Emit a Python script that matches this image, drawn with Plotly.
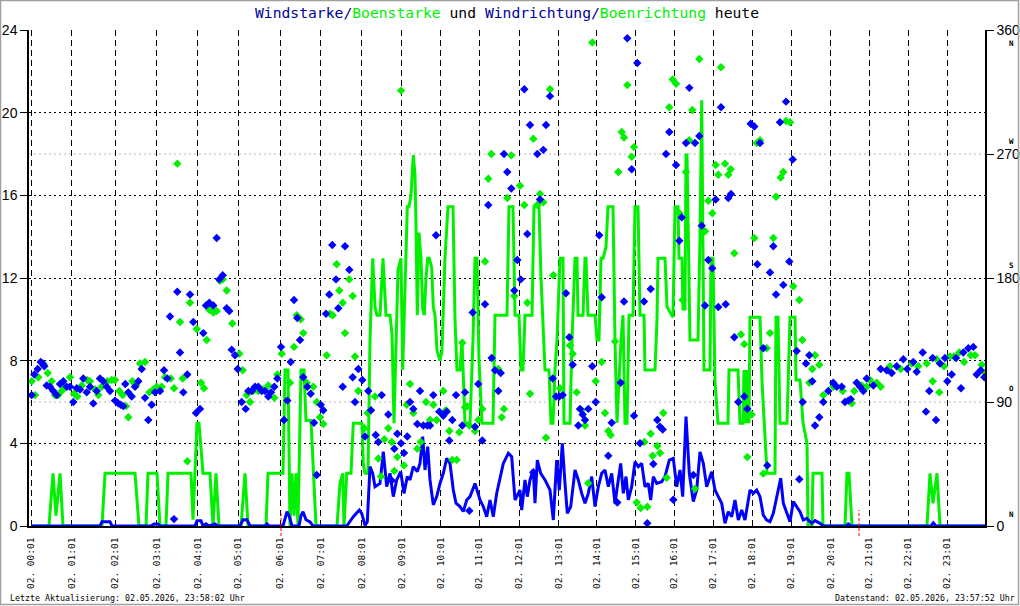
import plotly.graph_objects as go

# ---------------- data ----------------
# x = sample position along the day (chart sample index), hourly ticks below
hour_pos = [0, 40.7, 84, 125.7, 166.7, 207.3, 249, 289.7, 330.7, 370.7, 409.7, 448.3,
            488.3, 527.7, 565.7, 604.7, 643.3, 682.3, 721.3, 760, 799.7, 838.3, 877.3, 916.3]
hour_labels = ["02. %02d:01" % h for h in range(24)]

speed_left_ticks = [0, 4, 8, 12, 16, 20, 24]
dir_right_ticks = [0, 90, 180, 270, 360]

# Windstarke (blue line): (sample, value)
wind_speed = [
    (0,0),(69,0),(71,0.2),(79,0.2),(81,0),(120,0),(123,0.1),(127,0.1),(129,0),(164,0),(166,0.25),
    (170,0.25),(172,0),(175,0.1),(178,0),(184,0.1),(187,0),(209,0),(212,0.3),(216,0.3),(219,0),
    (234,0),(236,0.1),(238,0),(252,0),(254,0.4),(256,0.69),(258,0.5),(261,0),(268,0),(270,0.5),
    (272,0.69),(275,0.3),(279,0.2),(282,0),
    (315.7,0),(322.3,0.45),(328.3,0.77),(330.7,0.61),(334,0.03),(336.3,0.2),(339,2.87),(341.7,2.55),
    (344,1.9),(349,2.06),(352.3,3.6),(355.7,1.9),(359,2.55),(362.3,1.42),(365.7,2.23),(369.7,2.63),
    (373,1.58),(376.3,2.39),(379,2.23),(382.3,2.87),(386.3,2.63),(389,3.03),(391.7,4.32),(394,2.71),
    (396.7,3.84),(399,2.23),(402.3,1.02),(405.7,1.42),(409,2.06),(412.3,2.55),(415.7,3.27),(419,3.03),
    (422.3,1.74),(425,1.1),(429,0.94),(432.3,0.7),(435.7,1.26),(439,1.42),(444,2.06),(449,1.26),
    (452.3,0.94),(455.7,0.45),(459,1.26),(462.3,0.45),(465.7,1.58),(469,2.23),(472.3,3.03),(477.3,3.52),
    (480.7,3.35),(484,1.26),(489,1.74),(490.7,0.77),(494,2.23),(496.3,1.42),(499,2.23),(502.3,2.71),
    (504,1.1),(506.3,3.19),(509.7,2.55),(514,2.23),(519,1.74),(522.3,0.29),(525.7,3.19),(528.3,1.74),
    (531.3,4.0),(534,2.06),(536.3,0.61),(539.7,0.94),(544,2.71),(547.3,2.23),(550.7,1.58),(554,1.1),
    (557.3,1.58),(560.7,2.39),(564,0.94),(567.3,1.9),(570.7,2.55),(574,2.71),(577.3,1.9),(580.7,2.55),
    (584,1.1),(587.3,2.23),(589.7,3.03),(592.3,1.58),(595,2.39),(597.3,1.26),(600.7,1.9),(604,3.11),
    (607.3,2.87),(610.7,3.03),(614,1.9),(617.3,2.06),(619.7,1.26),(622.3,2.39),(625.7,2.06),(630.7,2.14),
    (634,2.39),(638.3,3.19),
    (642.3,3.27),(645.7,1.9),(649,2.71),(651.7,1.42),(655,5.29),(658.3,2.55),(662.3,1.18),(665.7,1.74),
    (669,3.59),(672.3,3.03),(675.7,1.9),(680.7,2.63),(684,1.74),(687.3,1.42),(690.7,1.1),(694,0.13),
    (697.3,0.69),(700.7,0.45),(704,1.26),(707.3,0.29),(710.7,0.77),(714,0.29),(719,1.74),(722.3,1.58),
    (725.7,1.74),(729,1.42),(732.3,0.53),(735.7,0.29),(739,0.21),(742.3,0.61),(745.7,1.42),(749.7,2.31),
    (752.3,1.1),(755.7,0.61),(759,0.21),(762.3,1.18),(765.7,0.94),(769,0.69),(772.3,0.29),(775.7,0.37),
    (780.7,0.13),(784,0.26),(789,0.13),(792.3,0),(815,0),(817.3,0.1),(820,0),(900,0),(902.3,0.15),
    (905,0),(954,0),
]

# Boenstarke (green line): (sample, value)
gust_speed = [
    (0,0),(18,0),(22,2.55),(25,0.5),(29,2.55),(32,0),(71,0),(74,2.55),(104,2.55),(108,0),(115,0),
    (117,2.55),(126,2.55),(129,0),(135,0),(137,2.55),(160,2.55),(162,0.3),(166,4.97),(168,4.97),
    (172,2.55),(179,2.55),(182,0),(185,2.55),(188,0),(210,0),(214,2.55),(217,0),(235,0),(237,2.55),
    (252,2.55),(254,7.55),(257,7.55),(259,0),(261,2.55),(263,0.5),(265,2.55),(267,0),(270,7.55),
    (273,7.55),(275,5.1),(280,5.1),(285,0),
    (306,0),(309,2.06),(311.7,2.55),(313,0),(315.7,2.55),(320,2.55),(322.3,4.97),(331,4.97),(332.3,3.0),
    (334,2.55),(337,2.55),(339,9.0),(341.7,12.95),(344,10.6),(346,10.2),(349,10.2),(352,12.95),
    (355,10.2),(359,10.2),(361,9.3),(363,4.97),(367,12.4),(370,12.95),(371.7,7.55),(375,13.0),
    (376.3,15.45),(378,15.45),(380,16.0),(382.3,17.95),(384,17.0),(385,14.5),(386.3,10.2),(388,14.2),
    (390,12.95),(391.7,10.5),(393.3,10.2),(395,12.0),(396.7,12.95),(398.3,12.95),(400.7,12.5),
    (402.3,10.6),(404,10.2),(406,8.5),(409,8.0),(411,8.5),(414,13),(417,15.45),(422,15.45),(424,10),
    (426,7.55),(429,7.55),(431,9),(434,4.97),(439,4.97),(442,9),(444,12.95),(446,12.95),(448,8),
    (451,4.97),(462,4.97),(464,10.2),(476,10.2),(478,15.45),(482,15.45),(484,10.2),(488,10.2),
    (490,7.55),(492,7.55),(494,10.2),(501,10.2),(503,15.45),(508,15.45),(510,12),(512,10),(514,7.55),
    (518,7.55),(520,4.97),(522,4.97),(524,7.55),(526,9),(529,12.95),(532,12.95),(533,4.97),(539,4.97),
    (541,9),(544,12.95),(546,12.95),(547,10.2),(552,10.2),(554,12.95),(555,12.95),(557,10.2),(564,10.2),
    (566,9),(568,9),(570,12.95),(572,12.95),(575,13.5),(577,15.45),(582,15.45),(584,9),(586,5),(588,7),
    (590,9),(592,10.2),(594,4.97),(596,4.97),(598,10.2),(602,10.2),(604,15.45),(607,15.45),(609,10.2),
    (613,10.2),(614,7.55),(624,7.55),(626,10),(627,12.95),(634,12.95),(636,10.6),(642,10.1),(644,15.45),
    (647,15.45),(648,12.95),(651,12.95),(652,10.5),(654,10.5),(655,17.95),(656,17.95),(657,15),(659,9),
    (667,9),(669,14),(670.7,20.6),(672,14),(673,7.55),(679,7.55),(680,12.95),(682,12.95),(684,7),
    (687,4.97),(697,4.97),(698,7.55),(707,7.55),(709,4.97),(712,4.97),(713,7.55),(715,4.97),(716,7.55),
    (718,4.97),(719,10.1),(729,10.1),(731,7),(734,4),(736,2.55),(744,2.55),(745,10.1),(747,10.1),
    (749,4.97),(756,4.97),(758,8),(759,10.1),(764,10.1),(765,7.07),(769,7.07),(772,5),(776,4.0),(777,0),
    (781,0),(782,2.55),(791,2.55),(792,0),(814,0),(816,2.55),(818,2.55),(821,0),(896,0),(899,2.55),
    (902,1.1),(906,2.55),(909,0),(954,0),
]

# Windrichtung (blue diamonds, degrees): (sample, deg)
wind_dir = [
    (0.7,95),(3.3,110),(6.7,114),(9.7,119),(11.7,118),(13.3,116),(15.7,102),(19,101),(22.3,98),(25.7,95),
    (29,103),(32.3,105),(35.7,101),(39,101),(42.3,90),(45.7,100),(49,99),(52.3,107),(55.7,97),(59,101),
    (62.3,89),(65.7,98),(69,107),(72.3,105),(75.7,101),(79,98),(84,91),(87.3,89),(89.7,88),(92.3,87),
    (94.3,103),(97.3,97),(100.7,94),(104,101),(107.3,105),(110.7,114),(114,93),(117.3,77),(120.7,88),
    (124,97),(129,98),(133,113),(136.3,107),(139,152),(143,5),(146.3,170),(149,126),(152.3,97),
    (156.3,110),(159,168),(162.3,148),(165,82),(169,85),(172.3,140),(175,160),(178.3,162),(182.3,160),
    (185.7,209),(188.3,179),(191.7,182),(195.7,158),(198.3,156),(200.7,128),(204,124),(206.7,114),
    (210.7,90),(214.7,85),(217.3,98),(220.7,98),(224,101),(227.3,101),(230.7,98),(234,98),(237.3,94),
    (240,97),(243.3,101),(246.3,107),(250,130),(253,77),(256.3,91),(259.7,119),(263,164),(266.3,151),
    (269,135),(272.3,108),(276.3,101),(279.7,96),(283,75),(285.7,37),(289.7,88),(292.3,84),(295,154),
    (298.3,168),(301.3,204),(305,179),(307.3,158),(311.7,101),(314,203),(318.3,186),(321.7,108),(324,90),
    (327.3,114),(331.3,106),(334,65),(337.3,98),(340,84),(344.7,66),(347.3,61),(350.7,95),(357.3,81),
    (360.7,33),(363.3,56),(366.3,67),(370,60),(373,53),(376.3,65),(379,90),(382.3,85),(386.3,74),(389,98),
    (392.3,73),(396.3,73),(399,73),(402.3,95),(405,211),(408.3,83),(412.3,80),(415.7,83),(418.3,62),
    (421.3,77),(425,95),(431.3,73),(434,97),(438.3,11),(441.7,155),(444,72),(447.3,103),(451.3,62),
    (454,161),(457.3,233),(460.7,122),(464,113),(467.3,98),(469.7,111),(473,270),(476.3,257),(480.3,245),
    (483.3,171),(486.3,193),(489.7,179),(493.3,317),(496.3,212),(499,291),(502.3,39),(506.3,270),
    (509,237),(512.3,273),(515,291),(519,312),(521.7,107),(525,94),(528.3,94),(531.7,95),(535,169),
    (538.3,137),(541.7,117),(547.3,73),(549,85),(551.7,81),(554,77),(557.3,85),(561.3,116),(564.7,90),
    (568.3,211),(570.7,166),(577.3,51),(580.7,75),(586.3,17),(589.7,104),(593,163),(596.3,354),
    (600.7,259),(603,80),(606.3,336),(609,60),(613,163),(616.3,2),(619.7,172),(622.3,45),(626.3,77),
    (629,72),(631.7,70),(635,270),(638.3,286),(642.3,19),(645,262),(648.3,207),(650.7,224),(655,278),
    (658.3,318),(662.3,37),(664,278),(668.3,283),(670.7,218),(674,160),(677.3,193),(681.3,187),
    (684.7,237),(687.3,159),(690,304),(694.7,161),(697.3,238),(700,241),(703.3,137),(707.3,90),
    (713.3,94),(716.3,85),(719.7,292),(723.3,290),(726.3,190),(729,278),(732.3,129),(736.3,44),(739,184),
    (742.3,203),(745,168),(749,293),(752.3,175),(755,308),(758.3,192),(761.7,266),(765.7,127),(768.3,34),
    (771.7,90),(775,118),(778.3,124),(781.3,105),(784,73),(788.3,79),(792.3,90),(797.3,98),(802.3,104),
    (805.7,101),(810.7,101),(814,90),(817.3,91),(819.7,92),(825.7,104),(829,101),(832.3,98),(835.7,107),
    (842.3,102),(849.7,114),(855.7,113),(860.7,111),(865.7,116),(872.3,121),(876.3,114),(882.3,119),
    (885.7,112),(891.7,126),(895,83),(898.3,98),(901.7,122),(905,77),(909,118),(914,122),(916.3,105),
    (920.7,110),(925,122),(930,100),(932.3,126),(937.3,129),(942.3,130),(945.7,110),(949.7,113),
    (953.3,108),
]

# Boenrichtung (green diamonds, degrees): (sample, deg)
gust_dir = [
    (0.7,105),(4,95),(7.3,108),(13,117),(16.7,111),(20.7,105),(24,95),(27.3,95),(30.7,98),(34,101),
    (39,108),(43,96),(46.3,94),(50.7,102),(56.3,106),(59,105),(64,99),(67.3,95),(70.7,101),(76.3,105),
    (80.7,106),(84,106),(88.3,98),(91.7,95),(95,87),(97.3,79),(101.3,105),(105,102),(109,118),(114,119),
    (118.3,97),(122.3,99),(125.7,101),(130.7,101),(134,108),(139.7,107),(143,100),(146.3,263),(149,148),
    (151.7,107),(156.3,47),(159,162),(165.7,143),(170,104),(173,100),(175.7,135),(178.3,157),(182.3,155),
    (185.7,156),(189,178),(191.7,179),(195.7,171),(201.3,147),(208.3,125),(211.7,113),(215.7,95),(219,90),
    (222.3,98),(227.3,98),(232.3,99),(237.3,102),(243.3,93),(246.3,110),(250.7,125),(259,104),(263,130),
    (265.7,153),(269.7,150),(272.3,140),(275.7,104),(282.3,101),(285.7,90),(289,79),(292.3,74),
    (295.7,124),(299,154),(301.7,153),(305.7,190),(308.3,171),(311.7,162),(314,140),(318.3,179),
    (321.7,167),(324,123),(327.3,98),(333.3,71),(336.7,82),(344,94),(347.3,49),(350,36),(353.3,63),
    (357.3,71),(360.7,61),(363.3,40),(366.3,50),(370,316),(373,44),(375.7,88),(379,103),(382.3,82),
    (386.3,56),(389.7,61),(395,90),(399,77),(402.3,88),(405.7,77),(412.3,98),(415,84),(418.3,69),
    (421.3,48),(425.7,48),(428.3,68),(431.3,133),(434,86),(436.3,87),(438.3,73),(444,69),(447.3,77),
    (451.3,85),(454,192),(457.3,252),(460.3,270),(467.3,114),(470.7,79),(473,85),(476.3,238),(480.3,269),
    (483.3,167),(489,247),(493.3,233),(496.3,162),(499,96),(502.3,281),(506.3,233),(509,241),(512.3,235),
    (515,64),(519,317),(522.3,182),(529,100),(539,131),(541.7,125),(545.7,97),(550.7,84),(554,73),
    (557.3,31),(561.3,351),(564.7,105),(570.7,119),(574,82),(577.3,69),(579.7,66),(584,134),(587.3,257),
    (590.7,286),(593,282),(596.3,320),(600.7,268),(603,275),(605.7,17),(609.7,13),(613.3,61),(616.3,14),
    (619.7,67),(621.7,51),(626.3,58),(629,53),(632.3,82),(635.7,35),(638.3,304),(641.7,324),(645,321),
    (648.3,227),(651.7,164),(655,257),(658.3,280),(661.3,302),(664,27),(668.3,339),(674,214),(677.3,236),
    (681.3,227),(684.7,262),(687.3,255),(690,333),(694,263),(697.3,255),(699.7,259),(703.3,198),(710,139),
    (713.3,132),(716.3,50),(720.7,81),(723.3,209),(725.7,278),(729,280),(732.3,38),(735.7,129),(739,140),
    (742.3,209),(745,239),(749.7,253),(752.3,257),(755,294),(759,293),(762.3,174),(768.3,164),(771.3,135),
    (778.3,104),(781.3,114),(784,124),(788.3,117),(792.3,95),(802.3,101),(811.7,98),(820.7,89),(823.3,98),
    (830.7,102),(835.7,101),(839,106),(845.7,104),(849.7,101),(859,116),(869.7,114),(880.7,118),
    (887.3,116),(895.7,118),(901.7,105),(905.7,121),(908.3,97),(913,116),(919,123),(923,123),(928.3,126),
    (933,119),(939.7,124),(944,124),(950.7,117),(954,111),
]

sunrise_pos = 250
sunset_pos = 828

BLUE = "#0000ff"
GREEN = "#00f000"
TITLE_BLUE = "#0000a0"

# ---------------- figure ----------------
W, H = 1020, 606
L, R, T, B = 29, 35, 30, 80


def px_to_paper_x(px):
    return (px - L) / (W - L - R)


def px_to_paper_y(py):
    return (H - B - py) / (H - T - B)


fig = go.Figure()

gx, gy = zip(*gust_speed)
fig.add_trace(go.Scatter(x=gx, y=gy, mode="lines", line=dict(color=GREEN, width=3),
                         name="Boenstarke", hoverinfo="skip"))
wx, wy = zip(*wind_speed)
fig.add_trace(go.Scatter(x=wx, y=wy, mode="lines", line=dict(color=BLUE, width=3),
                         name="Windstarke", hoverinfo="skip"))
gdx, gdy = zip(*gust_dir)
fig.add_trace(go.Scatter(x=gdx, y=gdy, mode="markers", yaxis="y2",
                         marker=dict(symbol="diamond", size=6.5, color=GREEN, line=dict(width=0)),
                         name="Boenrichtung", hoverinfo="skip"))
wdx, wdy = zip(*wind_dir)
fig.add_trace(go.Scatter(x=wdx, y=wdy, mode="markers", yaxis="y2",
                         marker=dict(symbol="diamond", size=6.5, color=BLUE, line=dict(width=0)),
                         name="Windrichtung", hoverinfo="skip"))

title_html = (
    f"<span style='color:{TITLE_BLUE}'>Windstarke/</span>"
    f"<span style='color:{GREEN}'>Boenstarke</span>"
    f"<span style='color:#000000'> und </span>"
    f"<span style='color:{TITLE_BLUE}'>Windrichtung/</span>"
    f"<span style='color:{GREEN}'>Boenrichtung</span>"
    f"<span style='color:#000000'> heute</span>"
)

shapes = []
# grey dotted lines at 90 and 270 degrees (6 and 18 on left scale)
for v in (6, 18):
    shapes.append(dict(type="line", xref="paper", yref="y", x0=0, x1=1, y0=v, y1=v,
                       line=dict(color="#b8b8b8", width=1, dash="2px,3px"), layer="below"))
# sunrise / sunset markers
for p in (sunrise_pos, sunset_pos):
    shapes.append(dict(type="line", xref="x", yref="paper", x0=p, x1=p,
                       y0=px_to_paper_y(536), y1=px_to_paper_y(510),
                       line=dict(color="#ff0000", width=1, dash="3px,2px"), layer="above"))
# outer grey frame
shapes.append(dict(type="rect", xref="paper", yref="paper",
                   x0=px_to_paper_x(0.5), x1=px_to_paper_x(1018.5),
                   y0=px_to_paper_y(604.5), y1=px_to_paper_y(0.5),
                   line=dict(color="#a0a0a0", width=1.5), layer="above"))

annotations = []
compass = [("N", 44), ("W", 141), ("S", 265), ("O", 388), ("N", 514)]
for letter, py in compass:
    annotations.append(dict(text="<b>%s</b>" % letter, xref="paper", yref="paper", x=px_to_paper_x(1012),
                            y=px_to_paper_y(py), showarrow=False, xanchor="center", yanchor="middle",
                            font=dict(family="DejaVu Sans Mono", size=7.5, color="#000000")))
annotations.append(dict(text="Letzte Aktualisierung: 02.05.2026, 23:58:02 Uhr", xref="paper", yref="paper",
                        x=px_to_paper_x(8), y=px_to_paper_y(598), showarrow=False, xanchor="left",
                        yanchor="middle", font=dict(family="DejaVu Sans Mono", size=8.3, color="#000000")))
annotations.append(dict(text="Datenstand: 02.05.2026, 23:57:52 Uhr", xref="paper", yref="paper",
                        x=px_to_paper_x(1017), y=px_to_paper_y(598), showarrow=False, xanchor="right",
                        yanchor="middle", font=dict(family="DejaVu Sans Mono", size=8.3, color="#000000")))

fig.update_layout(
    width=W, height=H,
    margin=dict(l=L, r=R, t=T, b=B, pad=0, autoexpand=False),
    paper_bgcolor="white", plot_bgcolor="white",
    showlegend=False,
    title=dict(text=title_html, x=0.5, xanchor="center", xref="paper",
               y=1 - 13 / H, yref="container", yanchor="middle",
               font=dict(family="DejaVu Sans Mono", size=14.7), automargin=False),
    xaxis=dict(range=[-2, 954], tickmode="array", tickvals=hour_pos, ticktext=hour_labels,
               tickangle=-90, ticks="", showgrid=True, gridcolor="#000000", gridwidth=1,
               griddash="6px,4px", showline=True, linecolor="#000000", linewidth=1.5,
               zeroline=False, ticklabelstandoff=6, automargin=False,
               tickfont=dict(family="DejaVu Sans Mono", size=9.5, color="#000000")),
    yaxis=dict(range=[0, 24], tickmode="array", tickvals=speed_left_ticks, ticks="outside",
               ticklen=7, tickcolor="#000000", showgrid=True, gridcolor="#000000", gridwidth=1,
               griddash="2px,3px", showline=True, linecolor="#000000", linewidth=1.5, zeroline=False,
               automargin=False,
               tickfont=dict(family="Liberation Sans", size=14, color="#000000")),
    yaxis2=dict(range=[0, 360], overlaying="y", side="right", tickmode="array",
                tickvals=dir_right_ticks, ticks="outside", ticklen=7, tickcolor="#000000",
                showgrid=False, showline=True, linecolor="#000000", linewidth=1.5, zeroline=False,
                automargin=False,
                tickfont=dict(family="Liberation Sans", size=14, color="#000000")),
    shapes=shapes,
    annotations=annotations,
)

fig.write_html("out.html")
